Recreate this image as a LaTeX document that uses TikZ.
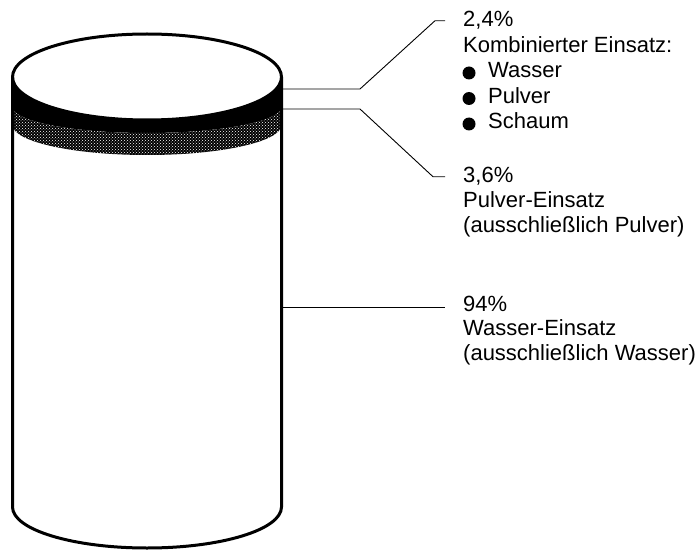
\documentclass[tikz,border=0pt]{standalone}
\usepackage{fontspec}
\setmainfont{Liberation Sans}
\usetikzlibrary{positioning,patterns}

\begin{document}
\begin{tikzpicture}[x=1pt,y=1pt,
rim/.style={
% the cylinder outline
line width=3pt,draw=black,line join=round},
leader/.style={line width=0.9pt,draw=black,shorten >=18pt},
caption/.style={inner sep=0pt,anchor=base west,
font=\fontsize{22}{25}\selectfont}]

\useasboundingbox (0,0) rectangle (699,550);

% black band under the lid
\fill[black] (12.5,473) arc[start angle=180,end angle=360,x radius=134.5,y radius=43]
  -- (281.5,443) arc[start angle=0,end angle=-180,x radius=134.5,y radius=26] -- cycle;
% stippled band
\fill[black,postaction={pattern=crosshatch dots,pattern color=white}]
  (12.5,443) arc[start angle=180,end angle=360,x radius=134.5,y radius=26]
  -- (281.5,425) arc[start angle=0,end angle=-180,x radius=134.5,y radius=30] -- cycle;

% cylinder
\draw[rim] (147,473) ellipse[x radius=134.5,y radius=43];
\draw[rim] (12.5,473) -- (12.5,43)
  arc[start angle=180,end angle=360,x radius=134.5,y radius=41] -- (281.5,473);

\coordinate (rimA) at (281.5,461);
\coordinate (rimB) at (281.5,441);
\coordinate (rimC) at (281.5,243);
\coordinate (kinkA) at (360,461);
\coordinate (kinkB) at (360,441);
\coordinate (topA) at (435,0);
\coordinate (topB) at (433,0);

% labels
\node (pct24) [caption] at (463,523) {2,4\%};
\node (kombi) [caption] at ([yshift=-25.5pt]pct24.base west) {Kombinierter Einsatz:};
\foreach \name/\word [count=\i] in {wasser/Wasser,pulver/Pulver,schaum/Schaum}{
  \node (\name) [caption] at ([xshift=25pt,yshift={-25.5pt*\i}]kombi.base west) {\word};
  \fill ([xshift=-19pt,yshift=5pt]\name.base west) circle (6.5pt);
}

\node (pct36) [caption] at (463,367) {3,6\%};
\node (pulvertxt) [caption] at ([yshift=-24.5pt]pct36.base west) {Pulver-Einsatz};
\node (pulvernur) [caption] at ([yshift=-24.5pt]pulvertxt.base west) {(ausschließlich Pulver)};

\node (pct94) [caption] at (463,239) {94\%};
\node (wassertxt) [caption] at ([yshift=-24.5pt]pct94.base west) {Wasser-Einsatz};
\node (wassernur) [caption] at ([yshift=-24.5pt]wassertxt.base west) {(ausschließlich Wasser)};

% leader lines
\draw[leader] (rimA) -- (kinkA) -- (pct24.west -| topA) -- (pct24.west);
\draw[leader] (rimB) -- (kinkB) -- (pct36.west -| topB) -- (pct36.west);
\draw[leader] (rimC) -- (rimC -| pct94.west);

\end{tikzpicture}
\end{document}
